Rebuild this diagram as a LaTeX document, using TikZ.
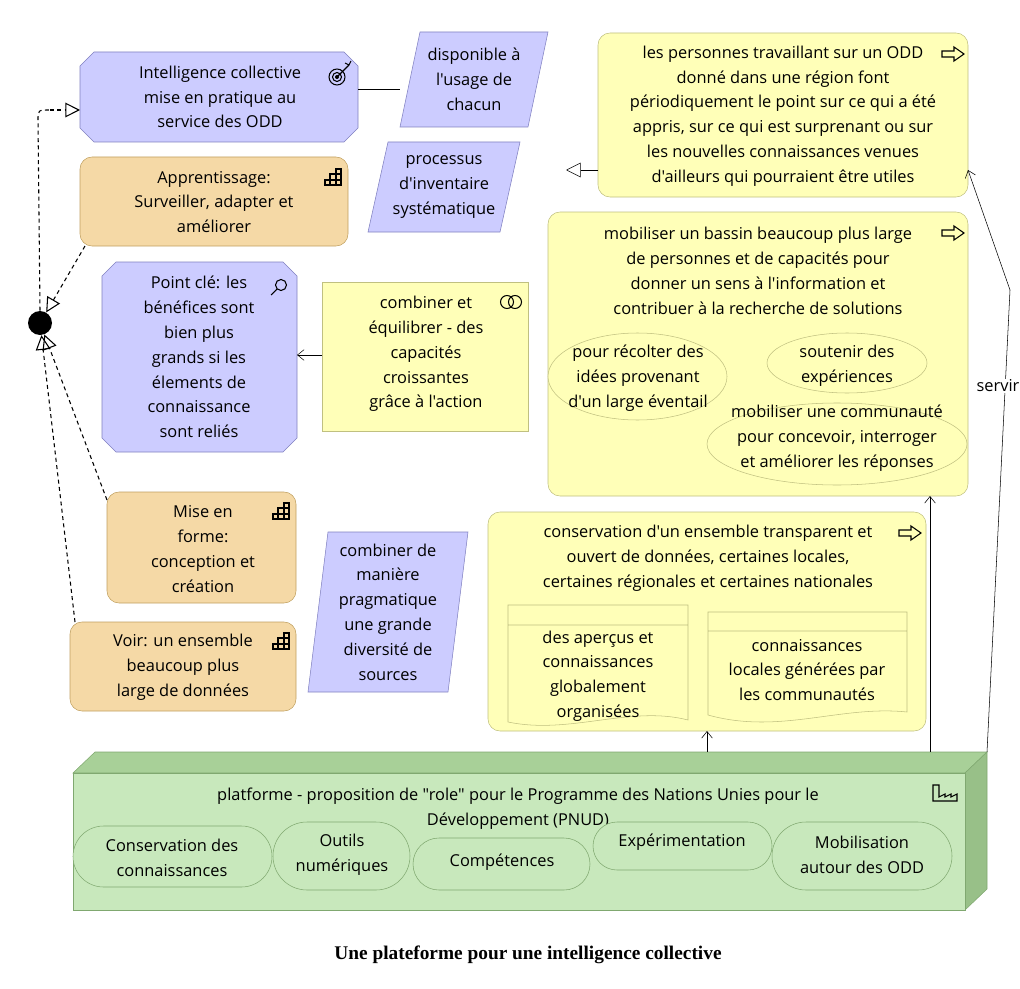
\documentclass[tikz,border=0pt]{standalone}
\usepackage{fontspec}
\setmainfont[Ligatures=TeXOff]{Open Sans}
\newfontfamily\capfont{Liberation Serif}
\usetikzlibrary{shapes.misc,shapes.geometric,arrows.meta}
\definecolor{lav}{HTML}{CCCCFF}\definecolor{lavd}{HTML}{8080C0}
\definecolor{yel}{HTML}{FFFFB8}\definecolor{yeld}{HTML}{C0C080}
\definecolor{tan}{HTML}{F5D9A6}\definecolor{tand}{HTML}{C0A060}
\definecolor{grn}{HTML}{C8E8BC}\definecolor{grnd}{HTML}{80A870}
\definecolor{grnt}{HTML}{A8D098}\definecolor{grns}{HTML}{98C088}
\tikzset{
 txt/.style={align=center,inner sep=0pt,font=\fontsize{12.3pt}{18.6pt}\selectfont},
 yelbox/.style={rounded corners=9pt,fill=yel,draw=yeld},
 tanbox/.style={rounded corners=9pt,fill=tan,draw=tand},
 ov/.style={ellipse,draw=yeld,fill=yel,inner sep=0pt},
 gov/.style={rounded rectangle,draw=grnd,fill=grn,inner sep=0pt},
 dsh/.style={dashed,thick,dash pattern=on 3pt off 2.5pt},
 tri/.style={-{Triangle[open,length=11pt,width=11pt]}},
 ln/.style={-{Straight Barb[length=5pt,width=8pt]}},
 ico/.style={line width=0.8pt,black}
}
\newcommand{\chamf}[4]{\draw[fill=lav,draw=lavd] (#1+14,#2)--(#3-14,#2)--(#3,#2+14)--(#3,#4-14)--(#3-14,#4)--(#1+14,#4)--(#1,#4-14)--(#1,#2+14)--cycle;}
\newcommand{\capico}[2]{\draw[ico] (#1-8,#2+8)--(#1+8,#2+8)--(#1+8,#2-8)--(#1+3,#2-8)--(#1+3,#2-3)--(#1-3,#2-3)--(#1-3,#2+3)--(#1-8,#2+3)--cycle (#1-3,#2+3)--(#1-3,#2+8) (#1+3,#2-3)--(#1+3,#2+8) (#1-3,#2+3)--(#1+8,#2+3) (#1+3,#2-3)--(#1+8,#2-3);}
\newcommand{\procico}[2]{\draw[ico] (#1-11,#2-3)--(#1+1,#2-3)--(#1+1,#2-7)--(#1+11,#2)--(#1+1,#2+7)--(#1+1,#2+3)--(#1-11,#2+3)--cycle;}
\begin{document}
\begin{tikzpicture}[x=0.75pt,y=-0.75pt]
\useasboundingbox (0,0) rectangle (1020,988);
\clip (0,0) rectangle (1020,988);
% goal
\chamf{80}{52}{358}{142}
\node[txt] (goalt) at (220,97) {Intelligence collective\\mise en pratique au\\service des ODD};
\draw[ico] (337,77) circle (8) (337,77) circle (4.5); \fill (337,77) circle (2); \draw[ico] (337,77)--(349,65) (345,63)--(349,65)--(351,61);
% parallelograms
\draw[fill=lav,draw=lavd] (420,32)--(548,32)--(528,127)--(400,127)--cycle;
\node[txt] (dispo) at (474,79) {disponible à\\l'usage de\\chacun};
\draw[fill=lav,draw=lavd] (388,142)--(520,142)--(500,232)--(368,232)--cycle;
\node[txt] (proc) at (444,187) {processus\\d'inventaire\\systématique};
\draw[fill=lav,draw=lavd] (328,532)--(468,532)--(448,692)--(308,692)--cycle;
\node[txt] (comb2) at (388,612) {combiner de\\manière\\pragmatique\\une grande\\diversité de\\sources};
\coordinate (gr) at (358,89); \coordinate (dl) at (400,89);
\draw (gr)--(dl);
% Y1
\draw[yelbox] (598,33) rectangle (968,197);
\node[txt] (y1) at (783,116) {les personnes travaillant sur un ODD\\donné dans une région font\\périodiquement le point sur ce qui a été\\appris, sur ce qui est surprenant ou sur\\les nouvelles connaissances venues\\d'ailleurs qui pourraient être utiles};
\procico{953}{54}
\coordinate (y1l) at (598,170); \coordinate (procr) at (566,170);
\draw[tri] (y1l)--(procr);
% tan boxes
\draw[tanbox] (80,157) rectangle (348,246);
\node[txt] (appr) at (214,202) {Apprentissage:\\Surveiller, adapter et\\améliorer};
\capico{333}{177}
\draw[tanbox] (107,492) rectangle (296,603);
\node[txt] (mef) at (203,549) {Mise en\\forme:\\conception et\\création};
\capico{281}{511}
\draw[tanbox] (70,622) rectangle (296,711);
\node[txt] (voir) at (183,667) {Voir: un ensemble\\beaucoup plus\\large de données};
\capico{281}{641}
% point cle
\chamf{102}{262}{297}{452}
\node[txt] (pct) at (199,357) {Point clé: les\\bénéfices sont\\bien plus\\grands si les\\élements de\\connaissance\\sont reliés};
\draw[ico] (281,285) circle (5.5) (277,289)--(271,295);
% combiner
\draw[fill=yel,draw=yeld] (322,282) rectangle (528,431);
\node[txt] (comb) at (426,354) {combiner et\\équilibrer - des\\capacités\\croissantes\\grâce à l'action};
\draw[ico] (507,302) circle (6.5) (515,302) circle (6.5);
\coordinate (combl) at (322,355); \coordinate (pcr) at (297,355);
\draw[ln] (combl)--(pcr);
% Y2
\draw[yelbox] (548,212) rectangle (968,496);
\node[txt] (y2) at (758,271) {mobiliser un bassin beaucoup plus large\\de personnes et de capacités pour\\donner un sens à l'information et\\contribuer à la recherche de solutions};
\procico{953}{233}
\node[ov,minimum width=179*0.75pt,minimum height=87*0.75pt] (o1) at (637.5,376.5) {};
\node[txt] at (638,378) {pour récolter des\\idées provenant\\d'un large éventail};
\node[ov,minimum width=160*0.75pt,minimum height=60*0.75pt] (o2) at (847,363) {};
\node[txt] at (847,366) {soutenir des\\expériences};
\node[ov,minimum width=260*0.75pt,minimum height=82*0.75pt] (o3) at (837,444) {};
\node[txt] at (837,438) {mobiliser une communauté\\pour concevoir, interroger\\et améliorer les réponses};
% Y3
\draw[yelbox] (488,512) rectangle (926,731);
\node[txt] (y3) at (708,558) {conservation d'un ensemble transparent et\\ouvert de données, certaines locales,\\certaines régionales et certaines nationales};
\procico{910}{533}
\draw[fill=yel,draw=yeld] (508,605)--(688,605)--(688,720) .. controls (630,705) and (570,735) .. (508,722)--cycle (508,625)--(688,625);
\node[txt] at (598,676) {des aperçus et\\connaissances\\globalement\\organisées};
\draw[fill=yel,draw=yeld] (708,612)--(907,612)--(907,712) .. controls (840,705) and (780,735) .. (708,715)--cycle (708,631)--(907,631);
\node[txt] at (807,670) {connaissances\\locales générées par\\les communautés};
% green
\draw[fill=grnt,draw=grnd] (73,773)--(95,752)--(987,752)--(965,773)--cycle;
\draw[fill=grns,draw=grnd] (965,773)--(987,752)--(987,889)--(965,910)--cycle;
\draw[fill=grn,draw=grnd] (73,773) rectangle (965,910);
\node[txt] (pf) at (518,809) {platforme - proposition de "role" pour le Programme des Nations Unies pour le\\Développement (PNUD)};
\draw[ico] (933,785)--(933,801)--(957,801)--(957,794)--(951,797)--(951,794)--(945,797)--(945,794)--(939,797)--(939,785)--cycle;
\node[gov,minimum width=137*0.75pt,minimum height=68*0.75pt] (g2) at (341.5,856) {};
\node[gov,minimum width=199*0.75pt,minimum height=61*0.75pt] (g1) at (172.5,856.5) {};
\node[gov,minimum width=177*0.75pt,minimum height=52*0.75pt] (g3) at (501.5,864) {};
\node[gov,minimum width=179*0.75pt,minimum height=48*0.75pt] (g4) at (682.5,846) {};
\node[gov,minimum width=180*0.75pt,minimum height=68*0.75pt] (g5) at (862,856) {};
\node[txt] at (172,858) {Conservation des\\connaissances};
\node[txt] at (342,855) {Outils\\numériques};
\node[txt] at (502,862) {Compétences};
\node[txt] at (682,842) {Expérimentation};
\node[txt] at (862,855) {Mobilisation\\autour des ODD};
% connectors from green
\coordinate (ga) at (707,752); \coordinate (y3b) at (707,731);
\draw[ln] (ga)--(y3b);
\coordinate (gb) at (930,752); \coordinate (y2b) at (930,496);
\draw[ln] (gb)--(y2b);
\coordinate (gc) at (987,752); \coordinate (bend) at (1010,290); \coordinate (y1r) at (968,170);
\draw[ln] (gc)--(bend)--(y1r);
\node[txt,anchor=west,fill=white,inner sep=1pt] (serv) at (975,386) {servir};
% junction
\node[circle,fill=black,minimum size=24*0.75pt,inner sep=0pt] (j) at (40,323) {};
\coordinate (ja) at (38,120); \coordinate (gl) at (80,110);
\draw[dsh] (j.north)--(ja) .. controls (38,110) .. (50,110);
\draw[tri,dsh] (50,110)--(gl);
\coordinate (apbl) at (85,246);
\draw[tri,dsh] (apbl)--(j);
\coordinate (mefl) at (107,500);
\draw[tri,dsh] (mefl)--(j);
\coordinate (voirl) at (75,622);
\draw[tri,dsh] (voirl)--(j);
% caption
\node[font=\capfont\bfseries\fontsize{14.5pt}{16pt}\selectfont] (cap) at (528,955) {Une plateforme pour une intelligence collective};
\end{tikzpicture}
\end{document}
